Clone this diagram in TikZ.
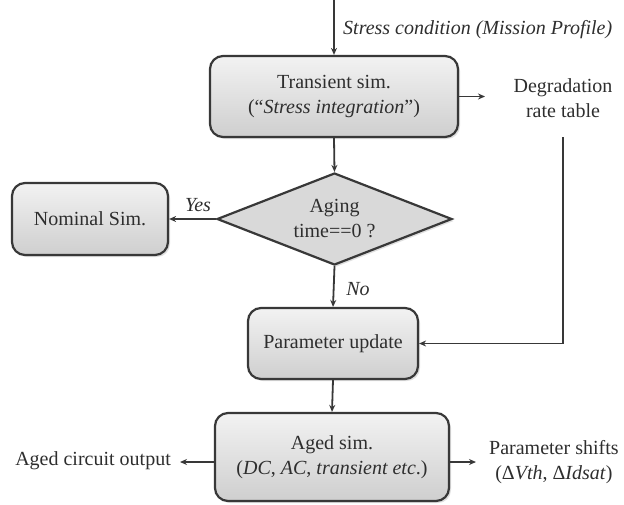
\documentclass[tikz,border=0pt]{standalone}
\usepackage{fontspec}
\setmainfont{Liberation Serif}
\usetikzlibrary{shapes.geometric,arrows.meta,shadows}
\definecolor{ink}{HTML}{2E2E2E}
\definecolor{edge}{HTML}{383838}
\tikzset{
  box/.style={draw=edge, line width=2.2pt, rounded corners=13pt, top color=gray!10, bottom color=gray!38,
    align=center, text=ink, inner sep=0pt, drop shadow={shadow xshift=2pt,shadow yshift=-2pt,opacity=0.25}},
  dec/.style={draw=edge, line width=2.2pt, shape=diamond, fill=gray!30, aspect=2.55, inner sep=0pt,
    align=center, text=ink, drop shadow={shadow xshift=2pt,shadow yshift=-2pt,opacity=0.25}},
  lbl/.style={text=ink, align=center, inner sep=0pt},
  conn/.style={draw=edge, line width=1.8pt, -{Stealth[length=7pt,width=6pt]}},
}
\begin{document}
\begin{tikzpicture}[x=1pt,y=-1pt, every node/.style={font=\fontsize{20}{25}\selectfont}]
\useasboundingbox (0,0) rectangle (624,504);
\node[box, minimum width=248pt, minimum height=81pt] (trans) at (334,96.5) {Transient sim.\\(“\textit{Stress integration}”)};
\node[dec, minimum width=235pt, minimum height=92pt] (dia) at (334.5,219) {Aging\\time==0 ?};
\node[box, minimum width=156pt, minimum height=72pt] (nom) at (90,219) {Nominal Sim.};
\node[box, minimum width=170pt, minimum height=71pt] (par) at (333,343.5) {Parameter update};
\node[box, minimum width=234pt, minimum height=88pt] (aged) at (332,457) {Aged sim.\\(\textit{DC}, \textit{AC}, \textit{transient etc}.)};

\coordinate (top) at (334,0);
\coordinate (degin) at (485,96.5);
\coordinate (degtop) at (563,137);
\coordinate (outL) at (180,462);
\coordinate (outR) at (476,462);

\node[lbl, anchor=west] (stress) at (343,30) {\textit{Stress condition (Mission Profile)}};
\node[lbl] (deg) at (563,98) {Degradation\\rate table};
\node[lbl] (yes) at (198,205) {\textit{Yes}};
\node[lbl] (no) at (358,289) {\textit{No}};
\node[lbl, anchor=east] (agedout) at (171,461) {Aged circuit output};
\node[lbl, anchor=west] (shifts) at (489,462) {Parameter shifts\\(Δ\textit{Vth}, Δ\textit{Idsat})};

\draw[conn] (top) -- (trans.north);
\draw[conn] (trans.east) -- (degin);
\draw[conn] (trans.south) -- (dia.north);
\draw[conn] (dia.west) -- (nom.east);
\draw[conn] (dia.south) -- (par.north);
\draw[conn] (degtop) |- (par.east);
\draw[conn] (par.south) -- (aged.north);
\draw[conn] (aged.west |- outL) -- (outL);
\draw[conn] (aged.east |- outR) -- (outR);
\end{tikzpicture}
\end{document}
